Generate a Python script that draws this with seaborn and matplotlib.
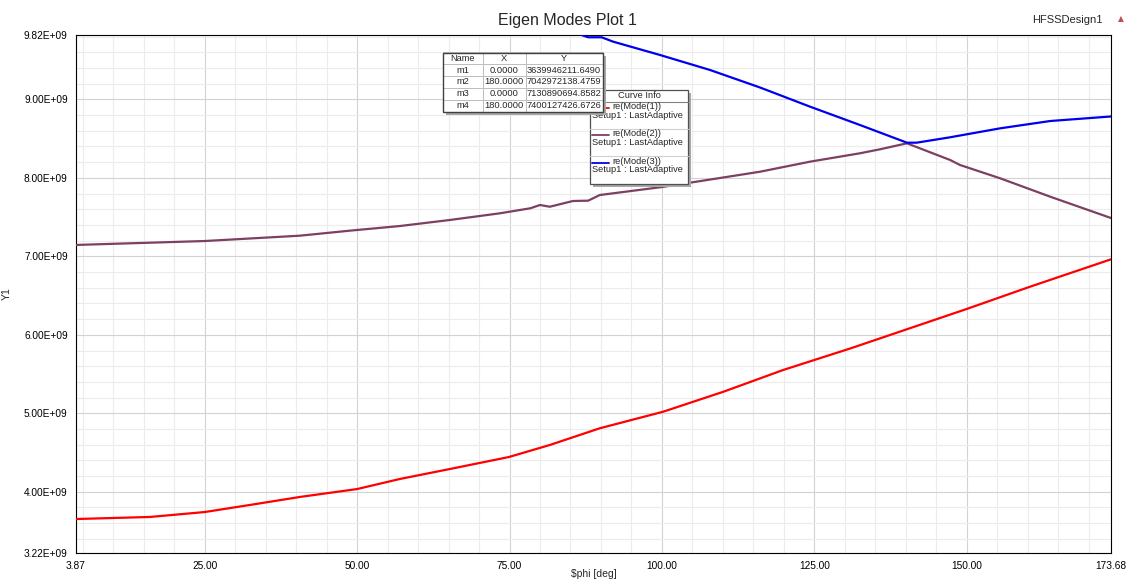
import matplotlib
matplotlib.use("Agg")
import matplotlib.pyplot as plt
import pandas as pd
import seaborn as sns
from matplotlib.lines import Line2D
from matplotlib.patches import Rectangle


# re(Mode(n)) in GHz against $phi in deg
mode1_phi = [3.87, 16.0, 25.0, 32.4, 40.6, 50.0, 57.0, 65.2, 74.9, 81.6, 89.8,
             100.2, 110.1, 119.9, 130.9, 150.0, 160.4, 173.68]
mode1_ghz = [3.653, 3.679, 3.742, 3.832, 3.934, 4.035, 4.163, 4.290, 4.443, 4.596,
             4.809, 5.020, 5.275, 5.552, 5.826, 6.329, 6.613, 6.962]

mode2_phi = [3.87, 25.0, 40.6, 48.8, 57.0, 65.2, 73.4, 78.4, 80.0, 81.6, 85.4, 87.9,
             89.8, 100.0, 106.4, 116.1, 124.3, 132.5, 135.8, 140.2, 147.3, 148.9,
             155.5, 163.7, 173.68]
mode2_ghz = [7.145, 7.195, 7.263, 7.327, 7.386, 7.463, 7.548, 7.612, 7.654, 7.632,
             7.705, 7.709, 7.781, 7.883, 7.960, 8.078, 8.206, 8.313, 8.364, 8.440,
             8.227, 8.164, 7.994, 7.760, 7.488]

mode3_phi = [86.8, 87.9, 90.1, 92.0, 99.7, 107.9, 116.1, 124.3, 132.5, 140.2, 141.8,
             147.3, 155.5, 163.7, 173.68]
mode3_ghz = [9.820, 9.791, 9.791, 9.735, 9.565, 9.374, 9.151, 8.907, 8.673, 8.448,
             8.448, 8.517, 8.631, 8.724, 8.782]

curve_names = ["re(Mode(1))", "re(Mode(2))", "re(Mode(3))"]
curve_colors = ["#ff0000", "#7d3f62", "#0000ee"]
setup_name = "Setup1 : LastAdaptive"

# marker table
marker_names = ["m1", "m2", "m3", "m4"]
marker_x = ["0.0000", "180.0000", "0.0000", "180.0000"]
marker_y = ["3639946211.6490", "7042972138.4759", "7130890694.8582", "7400127426.6726"]

x_ticks = [3.87, 25, 50, 75, 100, 125, 150, 173.68]
y_ticks = [3.22e9, 4e9, 5e9, 6e9, 7e9, 8e9, 9e9, 9.82e9]

W, H = 1129, 582
AX_L, AX_R, AX_T, AX_B = 76, 1111, 35, 553


def ax_xy(x, y):
    # pixel position in the picture -> axes fraction
    return (x - AX_L) / (AX_R - AX_L), (AX_B - y) / (AX_B - AX_T)


frames = []
for name, phi, ghz in zip(curve_names, [mode1_phi, mode2_phi, mode3_phi],
                          [mode1_ghz, mode2_ghz, mode3_ghz]):
    frames.append(pd.DataFrame({"phi": phi, "freq": [g * 1e9 for g in ghz], "curve": name}))
df = pd.concat(frames, ignore_index=True)

sns.set_style("white")
plt.rcParams["font.family"] = ["Liberation Sans", "DejaVu Sans"]

fig = plt.figure(figsize=(W / 100, H / 100), dpi=100)
ax = fig.add_axes([AX_L / W, 1 - AX_B / H, (AX_R - AX_L) / W, (AX_B - AX_T) / H])

sns.lineplot(data=df, x="phi", y="freq", hue="curve", hue_order=curve_names,
             palette=dict(zip(curve_names, curve_colors)), sort=False,
             linewidth=1.6, legend=False, ax=ax, zorder=3)

ax.set_xlim(x_ticks[0], x_ticks[-1])
ax.set_ylim(y_ticks[0], y_ticks[-1])
ax.set_xticks(x_ticks)
ax.set_xticklabels([f"{v:.2f}" for v in x_ticks])
ax.set_yticks(y_ticks)
ax.set_yticklabels([f"{v:.2E}" for v in y_ticks])
ax.set_xticks([v for v in range(5, 175, 5)], minor=True)
ax.set_yticks([v * 1e8 for v in range(34, 99, 2)], minor=True)

ax.grid(which="minor", color="#ececec", lw=0.8)
ax.grid(which="major", color="#d2d2d2", lw=0.8)
ax.set_axisbelow(True)
for s in ax.spines.values():
    s.set_color("black")
    s.set_linewidth(0.8)
ax.tick_params(which="both", direction="out", labelsize=7.3, colors="black", pad=2)
ax.tick_params(which="major", length=4, width=0.8)
ax.tick_params(which="minor", length=2.5, width=0.7)

ax.set_xlabel("\\$phi [deg]", fontsize=7.5)
ax.set_ylabel("Y1", fontsize=7.5)
ax.xaxis.set_label_coords(0.5, ax_xy(0, 569)[1])
ax.yaxis.set_label_coords(ax_xy(12, 0)[0], 0.5)

fig.text(567 / W, 1 - 20 / H, "Eigen Modes Plot 1", ha="center", va="center", fontsize=11.5)
fig.text(1067 / W, 1 - 20 / H, "HFSSDesign1", ha="center", va="center", fontsize=8)
fig.text(1121 / W, 1 - 19 / H, "\u25b2", ha="center", va="center", fontsize=5.5,
         color="#c0504d", family="DejaVu Sans")

# Curve Info box
lx0, lx1, ly0, ly1 = 590, 688, 90, 184
x0, y1 = ax_xy(lx0, ly0)
x1, y0 = ax_xy(lx1, ly1)
sx, sy = ax_xy(lx0 + 3, ly1 + 3)
ax.add_patch(Rectangle((sx, sy), x1 - x0, y1 - y0, transform=ax.transAxes,
                       facecolor="#a8a8a8", edgecolor="none", zorder=5, clip_on=False))
ax.add_patch(Rectangle((x0, y0), x1 - x0, y1 - y0, transform=ax.transAxes,
                       facecolor="white", edgecolor="#505050", lw=0.9, zorder=5.1, clip_on=False))
for yy, col in [(101.5, "#808080"), (129, "#d0d0d0"), (156, "#d0d0d0")]:
    ax.add_line(Line2D([x0, x1], [ax_xy(0, yy)[1]] * 2, transform=ax.transAxes,
                       color=col, lw=0.8, zorder=5.2, clip_on=False))
ax.text(*ax_xy(639, 95.5), "Curve Info", transform=ax.transAxes, ha="center",
        va="center", fontsize=6.7, zorder=5.3)
for i, (name, col) in enumerate(zip(curve_names, curve_colors)):
    ty = 106.5 + i * 27.5
    ax.add_line(Line2D([ax_xy(592, 0)[0], ax_xy(609, 0)[0]], [ax_xy(0, ty + 1)[1]] * 2,
                       transform=ax.transAxes, color=col, lw=1.3, zorder=5.2, clip_on=False))
    ax.text(*ax_xy(612, ty), name, transform=ax.transAxes, ha="left", va="center",
            fontsize=6.7, zorder=5.3)
    ax.text(*ax_xy(592, ty + 8.5), setup_name, transform=ax.transAxes, ha="left",
            va="center", fontsize=6.7, zorder=5.3)

# marker table
tx0, tx1, ty0, ty1 = 442.5, 602.5, 52.5, 111.5
bx0, by1 = ax_xy(tx0, ty0)
bx1, by0 = ax_xy(tx1, ty1)
ssx, ssy = ax_xy(tx0 + 3, ty1 + 3)
ax.add_patch(Rectangle((ssx, ssy), bx1 - bx0, by1 - by0, transform=ax.transAxes,
                       facecolor="#a8a8a8", edgecolor="none", zorder=6, clip_on=False))
cells = [[n, xv, yv] for n, xv, yv in zip(marker_names, marker_x, marker_y)]
tab = ax.table(cellText=cells, colLabels=["Name", "X", "Y"], cellLoc="center",
               colWidths=[40, 43, 77], bbox=[bx0, by0, bx1 - bx0, by1 - by0])
tab.auto_set_font_size(False)
tab.set_fontsize(6.7)
tab.set_zorder(6.1)
for cell in tab.get_celld().values():
    cell.set_edgecolor("#bdbdbd")
    cell.set_linewidth(0.7)
    cell.set_facecolor("white")
ax.add_patch(Rectangle((bx0, by0), bx1 - bx0, by1 - by0, transform=ax.transAxes,
                       facecolor="none", edgecolor="#404040", lw=1.0, zorder=6.2, clip_on=False))

fig.savefig("out.png", dpi=100, facecolor="white")
